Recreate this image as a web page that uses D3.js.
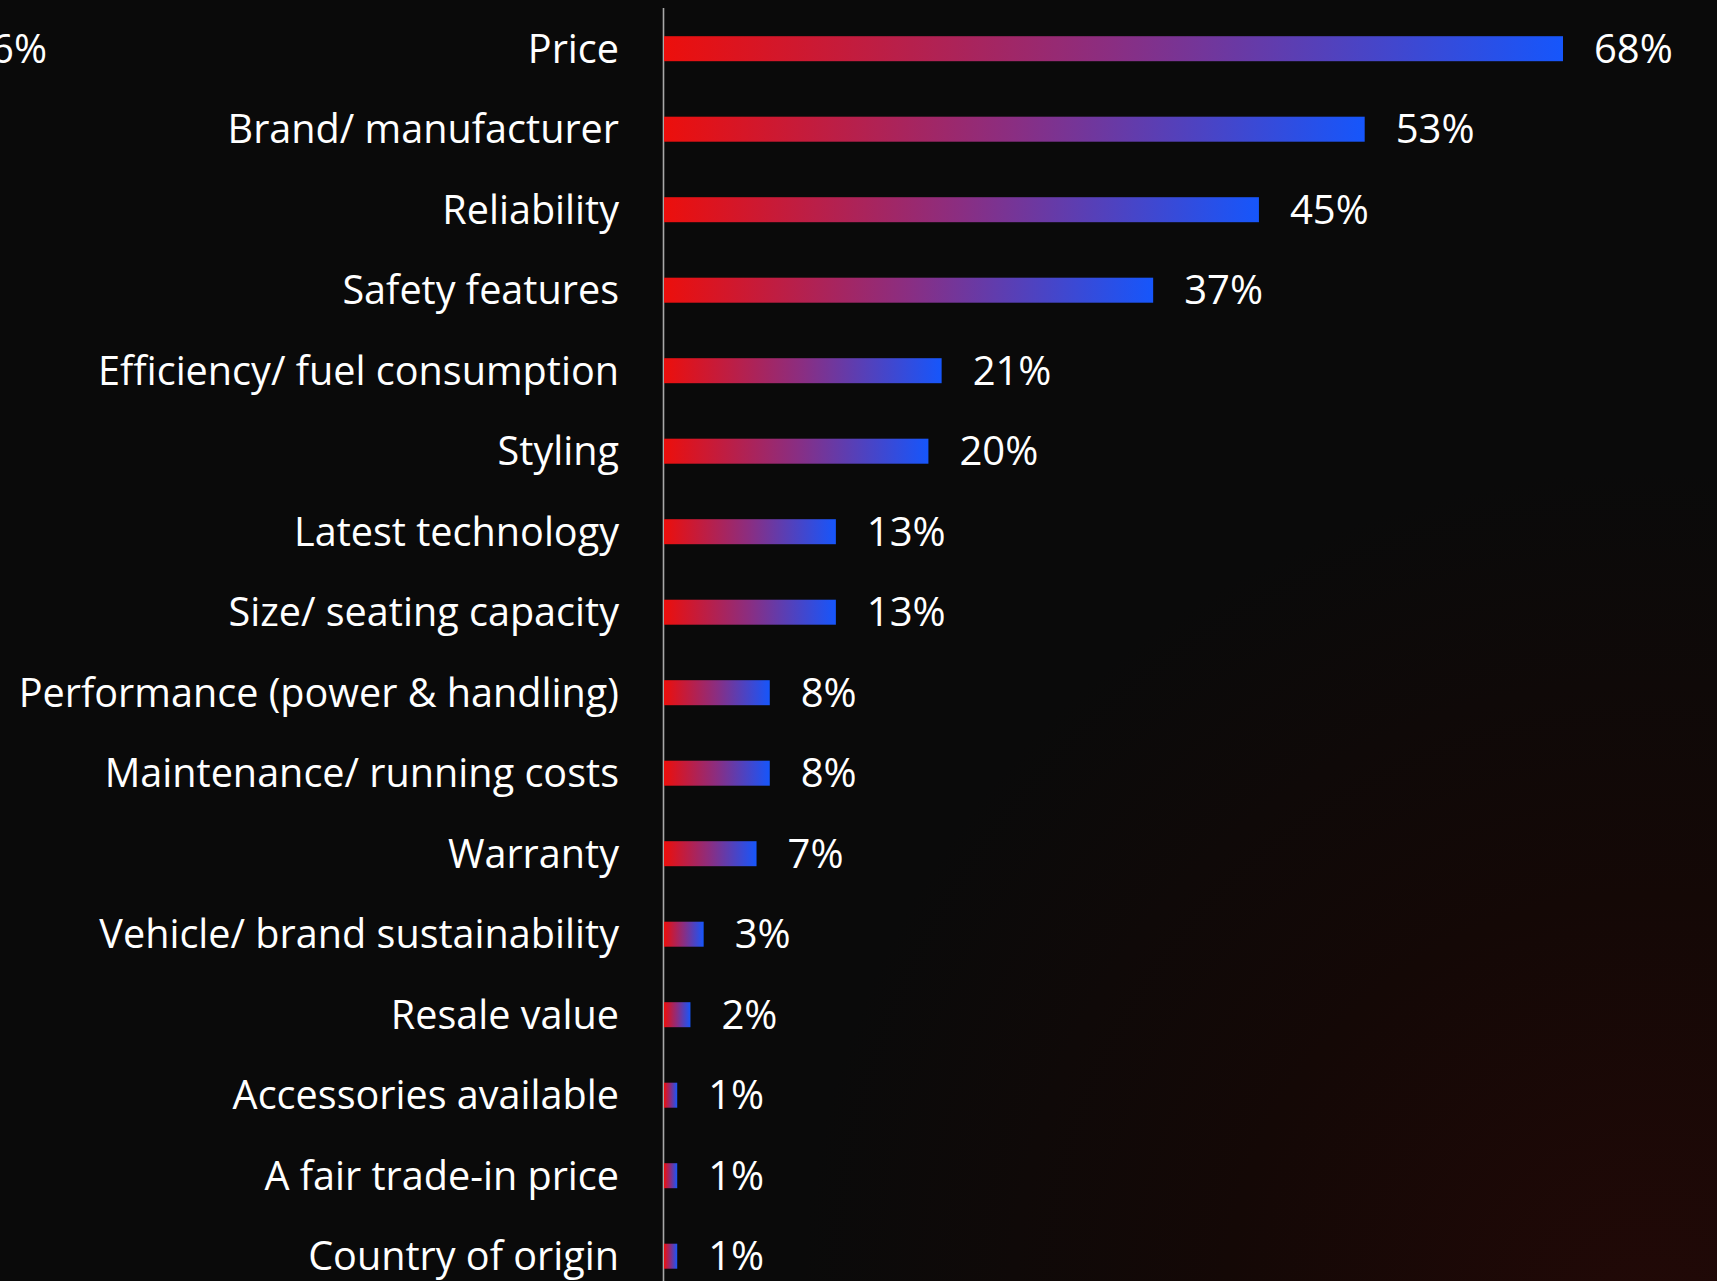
<!DOCTYPE html>
<html>
<head>
<meta charset="utf-8">
<script src="https://cdn.jsdelivr.net/npm/d3@7"></script>
<style>
  html, body { margin: 0; padding: 0; background: #0a0a0a; overflow: hidden; }
  svg { display: block; }
  text { font-family: "Open Sans", "Noto Sans", sans-serif; fill: #ffffff; }
</style>
</head>
<body>
<svg id="chart" width="1717" height="1281"></svg>
<script>
// Purchase drivers, share of respondents (%)
const categories = [
  "Price",
  "Brand/ manufacturer",
  "Reliability",
  "Safety features",
  "Efficiency/ fuel consumption",
  "Styling",
  "Latest technology",
  "Size/ seating capacity",
  "Performance (power & handling)",
  "Maintenance/ running costs",
  "Warranty",
  "Vehicle/ brand sustainability",
  "Resale value",
  "Accessories available",
  "A fair trade-in price",
  "Country of origin"
];
const values = [68, 53, 45, 37, 21, 20, 13, 13, 8, 8, 7, 3, 2, 1, 1, 1];
const neighbourLabel = "6%";

const W = 1717, H = 1281;
const svg = d3.select("#chart");

// background with a faint warm glow towards the lower right
const defs = svg.append("defs");
const glow = defs.append("radialGradient")
  .attr("id", "glow")
  .attr("gradientUnits", "userSpaceOnUse")
  .attr("cx", 1650).attr("cy", 1320).attr("r", 850);
glow.append("stop").attr("offset", "0%").attr("stop-color", "#220907");
glow.append("stop").attr("offset", "50%").attr("stop-color", "#140806");
glow.append("stop").attr("offset", "100%").attr("stop-color", "#0a0a0a");
svg.append("rect").attr("width", W).attr("height", H).attr("fill", "url(#glow)");

// every bar fades red -> blue along its own length
const barGrad = defs.append("linearGradient")
  .attr("id", "barGrad")
  .attr("x1", "0%").attr("x2", "100%").attr("y1", "0%").attr("y2", "0%");
barGrad.append("stop").attr("offset", "0%").attr("stop-color", "#ec0f0c");
barGrad.append("stop").attr("offset", "50%").attr("stop-color", "#8a2e82");
barGrad.append("stop").attr("offset", "100%").attr("stop-color", "#1656fb");

const x0 = 664;
const x = d3.scaleLinear().domain([0, 68]).range([x0, 1563]);
const y = d3.scalePoint().domain(categories).range([48.7, 1256.2]);
const barH = 25;

// baseline
svg.append("line")
  .attr("x1", x0 - 0.5).attr("x2", x0 - 0.5)
  .attr("y1", 8).attr("y2", H)
  .attr("stroke", "#a8a8a8").attr("stroke-width", 1.6);

const rows = svg.append("g").selectAll("g")
  .data(categories.map((c, i) => ({ c, v: values[i] })))
  .join("g");

rows.append("rect")
  .attr("x", x(0))
  .attr("y", d => y(d.c) - barH / 2)
  .attr("width", d => x(d.v) - x(0))
  .attr("height", barH)
  .attr("fill", "url(#barGrad)");

rows.append("text")
  .attr("x", 619)
  .attr("y", d => y(d.c) + 14)
  .attr("text-anchor", "end")
  .attr("font-size", 39.6)
  .text(d => d.c);

rows.append("text")
  .attr("x", d => x(d.v) + 31)
  .attr("y", d => y(d.c) + 14)
  .attr("font-size", 40)
  .text(d => d.v + "%");

// value from the adjacent panel, cut by the left edge
svg.append("text")
  .attr("x", 47)
  .attr("y", y(categories[0]) + 14)
  .attr("text-anchor", "end")
  .attr("font-size", 40)
  .text(neighbourLabel);
</script>
</body>
</html>
